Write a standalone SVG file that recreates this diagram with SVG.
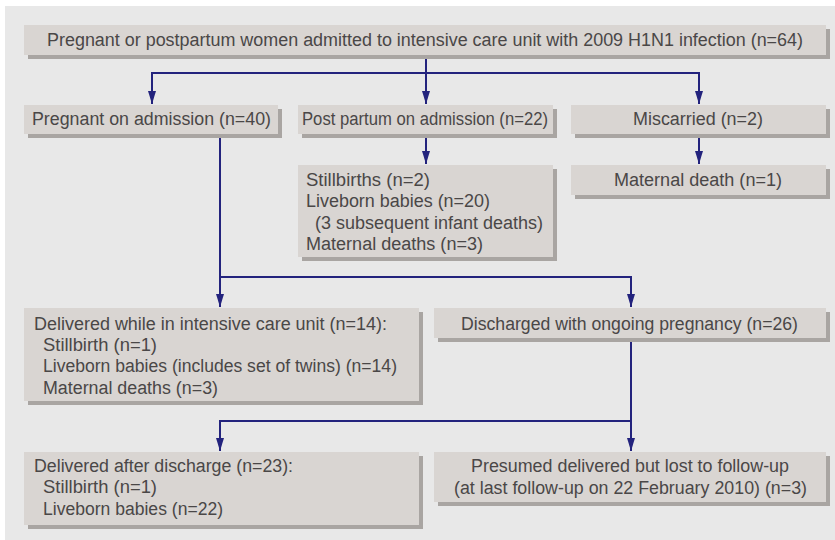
<svg xmlns="http://www.w3.org/2000/svg" width="835" height="540" viewBox="0 0 835 540">
<defs>
<style>
.bg{fill:#e8e8e8}
.sh{fill:#a9a5a2}
.bx{fill:#d9d5d2}
text{font-family:"Liberation Sans",Arial,sans-serif;font-size:18px;fill:#4a4747}
.c{text-anchor:middle}
.ln{stroke:#23237d;stroke-width:2;fill:none}
</style>
<marker id="ah" viewBox="0 -5 14 10" refX="13" refY="0" markerWidth="14" markerHeight="10" markerUnits="userSpaceOnUse" orient="auto">
<path d="M0,-4 L13,0 L0,4 z" fill="#23237d"/>
</marker>
</defs>
<rect class="bg" x="5" y="6" width="830" height="534"/>

<g id="connectors">
<line class="ln" x1="426" y1="55" x2="426" y2="104" marker-end="url(#ah)"/>
<polyline class="ln" points="152,104 152,73 699,73 699,104"/>
<line class="ln" x1="152" y1="80" x2="152" y2="104" marker-end="url(#ah)"/>
<line class="ln" x1="699" y1="80" x2="699" y2="104" marker-end="url(#ah)"/>
<line class="ln" x1="426" y1="134" x2="426" y2="164" marker-end="url(#ah)"/>
<line class="ln" x1="699" y1="134" x2="699" y2="164" marker-end="url(#ah)"/>
<line class="ln" x1="220" y1="134" x2="220" y2="307" marker-end="url(#ah)"/>
<polyline class="ln" points="220,277 631,277 631,307" marker-end="url(#ah)"/>
<line class="ln" x1="631" y1="338" x2="631" y2="451" marker-end="url(#ah)"/>
<polyline class="ln" points="631,421 220,421 220,451" marker-end="url(#ah)"/>
</g>

<g id="n-top">
<rect class="sh" x="28" y="29" width="802" height="30"/>
<rect class="bx" x="24" y="25" width="802" height="30"/>
<text x="47" y="46" textLength="756" lengthAdjust="spacingAndGlyphs">Pregnant or postpartum women admitted to intensive care unit with 2009 H1N1 infection (n=64)</text>
</g>

<g id="n-pregnant">
<rect class="sh" x="28" y="109" width="254" height="29"/>
<rect class="bx" x="24" y="105" width="254" height="29"/>
<text x="32" y="125" textLength="239" lengthAdjust="spacingAndGlyphs">Pregnant on admission (n=40)</text>
</g>

<g id="n-postpartum">
<rect class="sh" x="302" y="109" width="255" height="29"/>
<rect class="bx" x="298" y="105" width="255" height="29"/>
<text x="302" y="125" textLength="246" lengthAdjust="spacingAndGlyphs">Post partum on admission (n=22)</text>
</g>

<g id="n-miscarried">
<rect class="sh" x="575" y="109" width="255" height="29"/>
<rect class="bx" x="571" y="105" width="255" height="29"/>
<text class="c" x="698" y="125" textLength="130" lengthAdjust="spacingAndGlyphs">Miscarried (n=2)</text>
</g>

<g id="n-pp-outcomes">
<rect class="sh" x="302" y="169" width="255" height="92"/>
<rect class="bx" x="298" y="165" width="255" height="92"/>
<text x="306" y="186" textLength="124" lengthAdjust="spacingAndGlyphs">Stillbirths (n=2)</text>
<text x="306" y="207.3" textLength="184" lengthAdjust="spacingAndGlyphs">Liveborn babies (n=20)</text>
<text x="315" y="228.7" textLength="228" lengthAdjust="spacingAndGlyphs">(3 subsequent infant deaths)</text>
<text x="306" y="250" textLength="177" lengthAdjust="spacingAndGlyphs">Maternal deaths (n=3)</text>
</g>

<g id="n-maternal-death">
<rect class="sh" x="575" y="169" width="255" height="30"/>
<rect class="bx" x="571" y="165" width="255" height="30"/>
<text class="c" x="698" y="186" textLength="168" lengthAdjust="spacingAndGlyphs">Maternal death (n=1)</text>
</g>

<g id="n-delivered-icu">
<rect class="sh" x="28" y="312" width="395" height="93"/>
<rect class="bx" x="24" y="308" width="395" height="93"/>
<text x="34" y="329.5" textLength="353" lengthAdjust="spacingAndGlyphs">Delivered while in intensive care unit (n=14):</text>
<text x="43" y="350.8" textLength="114" lengthAdjust="spacingAndGlyphs">Stillbirth (n=1)</text>
<text x="43" y="372.2" textLength="354" lengthAdjust="spacingAndGlyphs">Liveborn babies (includes set of twins) (n=14)</text>
<text x="43" y="393.5" textLength="175" lengthAdjust="spacingAndGlyphs">Maternal deaths (n=3)</text>
</g>

<g id="n-discharged">
<rect class="sh" x="438" y="312" width="392" height="30"/>
<rect class="bx" x="434" y="308" width="392" height="30"/>
<text class="c" x="629.5" y="329.5" textLength="337" lengthAdjust="spacingAndGlyphs">Discharged with ongoing pregnancy (n=26)</text>
</g>

<g id="n-delivered-after">
<rect class="sh" x="28" y="456" width="395" height="73"/>
<rect class="bx" x="24" y="452" width="395" height="73"/>
<text x="34" y="471.5" textLength="259" lengthAdjust="spacingAndGlyphs">Delivered after discharge (n=23):</text>
<text x="43" y="493.2" textLength="114" lengthAdjust="spacingAndGlyphs">Stillbirth (n=1)</text>
<text x="43" y="515" textLength="180" lengthAdjust="spacingAndGlyphs">Liveborn babies (n=22)</text>
</g>

<g id="n-presumed">
<rect class="sh" x="438" y="456" width="392" height="50"/>
<rect class="bx" x="434" y="452" width="392" height="50"/>
<text class="c" x="630" y="471.5" textLength="318" lengthAdjust="spacingAndGlyphs">Presumed delivered but lost to follow-up</text>
<text class="c" x="630.5" y="493.5" textLength="353" lengthAdjust="spacingAndGlyphs">(at last follow-up on 22 February 2010) (n=3)</text>
</g>
</svg>
